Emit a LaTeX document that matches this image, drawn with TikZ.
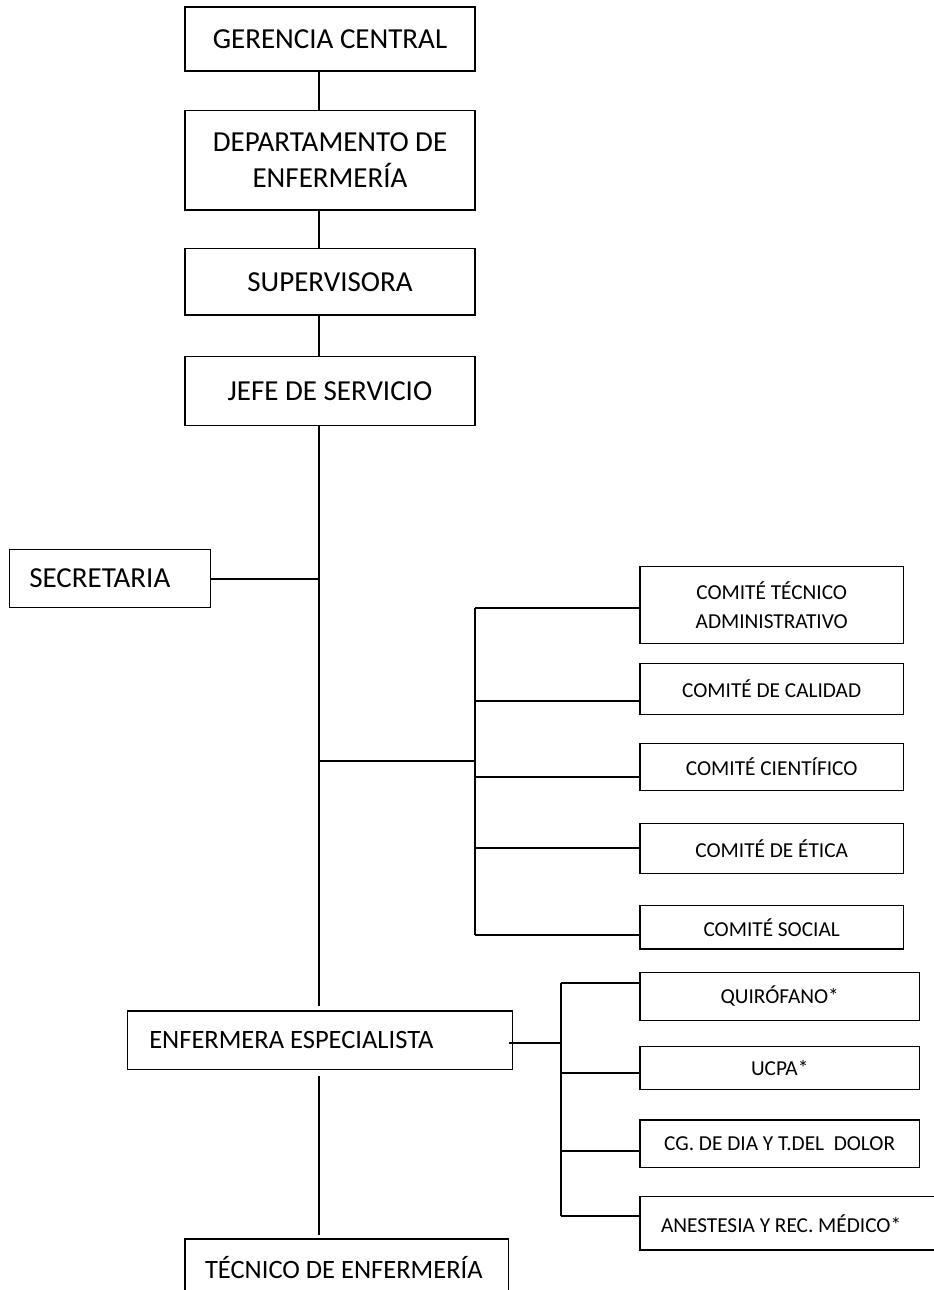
\documentclass[tikz,border=0pt]{standalone}
\usepackage{fontspec}
\setmainfont{Carlito}
\begin{document}
\begin{tikzpicture}[x=1pt,y=-1pt,
  box/.style={draw, line width=1.4pt, inner sep=0pt, align=center},
  big/.style={font=\fontsize{29}{36}\selectfont},
  mid/.style={font=\fontsize{26.5}{33}\selectfont},
  small/.style={font=\fontsize{21.3}{29.4}\selectfont},
  leftbox/.style={align=flush left, inner xsep=#1},
  link/.style={line width=2pt}]

\useasboundingbox (0,0) rectangle (934,1290);
\clip (0,0) rectangle (934,1290);

% main chain
\node[box,big,minimum width=290pt,minimum height=64pt] (ger) at (330,39) {GERENCIA CENTRAL};
\node[box,big,minimum width=290pt,minimum height=99.3pt] (dep) at (330,160.3) {DEPARTAMENTO DE\\ENFERMERÍA};
\node[box,big,minimum width=290pt,minimum height=66.3pt] (sup) at (330,281.8) {SUPERVISORA};
\node[box,big,minimum width=290pt,minimum height=68.6pt] (jefe) at (330,391) {JEFE DE SERVICIO};
\node[box,big,leftbox=20pt,text width=161.4pt,minimum height=58.4pt] (sec) at (110,578.5) {\mbox{SECRETARIA}};
\node[box,mid,leftbox=22pt,text width=341pt,minimum height=58.3pt] (enf) at (319.8,1040.2) {\mbox{ENFERMERA ESPECIALISTA}};
\node[box,mid,leftbox=20pt,text width=283.7pt,minimum height=58pt] (tec) at (346.9,1268) {\mbox{TÉCNICO DE ENFERMERÍA}};

% committees
\node[box,small,minimum width=263.3pt,minimum height=76.6pt] (cta) at (771.7,605) {COMITÉ TÉCNICO\\ADMINISTRATIVO};
\node[box,small,minimum width=263.3pt,minimum height=51pt] (cal) at (771.7,688.8) {COMITÉ DE CALIDAD};
\node[box,small,minimum width=263.3pt,minimum height=47.4pt] (cie) at (771.7,767) {COMITÉ CIENTÍFICO};
\node[box,small,minimum width=263.3pt,minimum height=50pt] (eti) at (771.7,848.3) {COMITÉ DE ÉTICA};
\node[box,small,minimum width=263.3pt,minimum height=43.3pt] (soc) at (771.7,927.3) {COMITÉ SOCIAL};

% units under the specialist nurse
\node[box,small,minimum width=279.3pt,minimum height=47.6pt] (qui) at (779.7,996.5) {QUIRÓFANO*};
\node[box,small,minimum width=279.3pt,minimum height=42.6pt] (ucp) at (779.7,1068) {UCPA*};
\node[box,small,minimum width=279.3pt,minimum height=47.3pt] (cgd) at (779.7,1143.7) {CG. DE DIA Y T.DEL\ \ DOLOR};
\node[box,small,leftbox=21pt,text width=258pt,minimum height=53.3pt] (ane) at (790,1223.3) {\mbox{ANESTESIA Y REC. MÉDICO*}};

% spine
\coordinate (sx) at (318.7,0);
\draw[link] (ger.south -| sx) -- (dep.north -| sx);
\draw[link] (dep.south -| sx) -- (sup.north -| sx);
\draw[link] (sup.south -| sx) -- (jefe.north -| sx);
\draw[link, shorten >=4.3pt] (jefe.south -| sx) -- (enf.north -| sx);
\draw[link, shorten <=6pt, shorten >=3pt] (enf.south -| sx) -- (tec.north -| sx);
\draw[link] (sec.east) -- (sec.east -| sx);

% committee bus
\coordinate (cbus) at (475,761);
\coordinate (c1) at (475,608.3);
\coordinate (c2) at (475,701);
\coordinate (c3) at (475,777);
\coordinate (c4) at (475,847.7);
\coordinate (c5) at (475,935);
\draw[link] (sx |- cbus) -- (cbus);
\draw[link] (c1) -- (c5);
\draw[link] (c1) -- (c1 -| cta.west);
\draw[link] (c2) -- (c2 -| cal.west);
\draw[link] (c3) -- (c3 -| cie.west);
\draw[link] (c4) -- (c4 -| eti.west);
\draw[link] (c5) -- (c5 -| soc.west);

% unit bus
\coordinate (lb) at (561,1043.3);
\coordinate (d1) at (561,982.7);
\coordinate (d2) at (561,1073.3);
\coordinate (d3) at (561,1151);
\coordinate (d4) at (561,1216);
\draw[link, shorten <=-4pt] (enf.east |- lb) -- (lb);
\draw[link] (d1) -- (d4);
\draw[link] (d1) -- (d1 -| qui.west);
\draw[link] (d2) -- (d2 -| ucp.west);
\draw[link] (d3) -- (d3 -| cgd.west);
\draw[link] (d4) -- (d4 -| ane.west);
\end{tikzpicture}
\end{document}
